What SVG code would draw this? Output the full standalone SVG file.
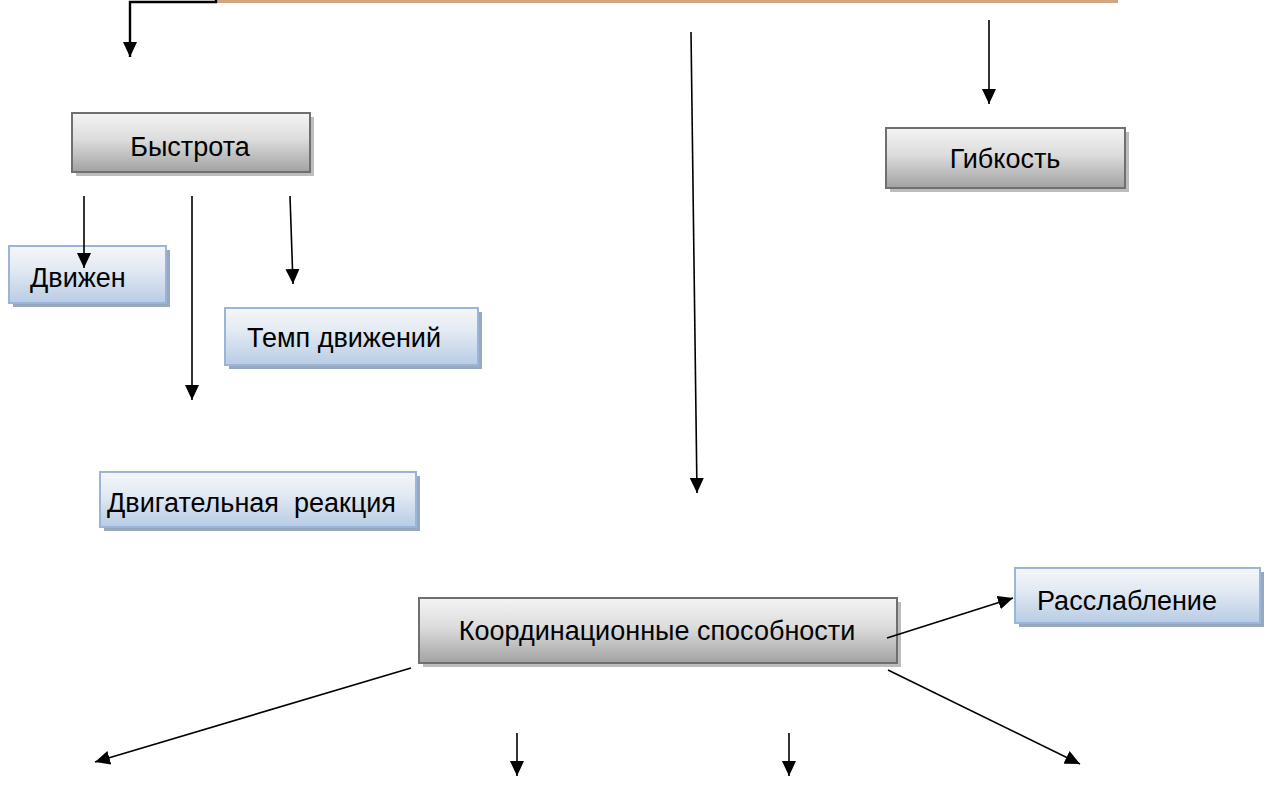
<svg xmlns="http://www.w3.org/2000/svg" width="1272" height="805" viewBox="0 0 1272 805">
<style>
.gbox{fill:url(#gGrey);stroke:#6F6F6F;stroke-width:2}
.gsh{fill:#BDBDBD}
.bbox{fill:url(#gBlue);stroke:#9AB5D8;stroke-width:2}
.bsh{fill:#98A8BE}
.t{font-family:"Liberation Sans",Arial,sans-serif;font-size:27px;fill:#000}
.c{text-anchor:middle}
.ln{stroke:#000;stroke-width:1.6;fill:none;marker-end:url(#ah)}
</style>
<defs>
<linearGradient id="gGrey" x1="0" y1="0" x2="0" y2="1">
<stop offset="0" stop-color="#F4F4F4"/>
<stop offset="0.45" stop-color="#DCDCDC"/>
<stop offset="1" stop-color="#A2A2A2"/>
</linearGradient>
<linearGradient id="gBlue" x1="0" y1="0" x2="0" y2="1">
<stop offset="0" stop-color="#F5F6F9"/>
<stop offset="0.4" stop-color="#E3EAF3"/>
<stop offset="1" stop-color="#B8CCE4"/>
</linearGradient>
<marker id="ah" markerUnits="userSpaceOnUse" markerWidth="15" markerHeight="14" viewBox="0 0 15 14" refX="15" refY="7" orient="auto">
<path d="M0,0 L15,7 L0,14 z" fill="#000"/>
</marker>
</defs>
<rect width="1272" height="805" fill="#fff"/>
<rect x="217" y="-10" width="901" height="13" fill="#D1A482"/>
<g id="bystrota">
<rect class="gsh" x="76" y="117" width="238" height="59"/>
<rect class="gbox" x="72" y="113" width="238" height="59"/>
<text class="t c" x="190" y="156">Быстрота</text>
</g>
<g id="gibkost">
<rect class="gsh" x="890" y="132" width="239" height="60"/>
<rect class="gbox" x="886" y="128" width="239" height="60"/>
<text class="t c" x="1005" y="168">Гибкость</text>
</g>
<g id="dvizhen">
<rect class="bsh" x="13" y="250" width="157" height="57"/>
<rect class="bbox" x="9" y="246" width="157" height="57"/>
<text class="t" x="30" y="287">Движен</text>
</g>
<g id="temp">
<rect class="bsh" x="229" y="312" width="253" height="57"/>
<rect class="bbox" x="225" y="308" width="253" height="57"/>
<text class="t" x="247" y="347">Темп движений</text>
</g>
<g id="reaktsiya">
<rect class="bsh" x="104" y="476" width="316" height="55"/>
<rect class="bbox" x="100" y="472" width="316" height="55"/>
<text class="t" x="107" y="512" xml:space="preserve">Двигательная  реакция</text>
</g>
<g id="koord">
<rect class="gsh" x="423" y="602" width="478" height="65"/>
<rect class="gbox" x="419" y="598" width="478" height="65"/>
<text class="t c" x="657" y="640">Координационные способности</text>
</g>
<g id="rasslablenie">
<rect class="bsh" x="1019" y="572" width="245" height="55"/>
<rect class="bbox" x="1015" y="568" width="245" height="55"/>
<text class="t" x="1037" y="610">Расслабление</text>
</g>
<g id="connectors">
<path d="M216,0 V2 H130 V57" stroke="#000" stroke-width="2.4" fill="none" marker-end="url(#ah)"/>
<line class="ln" x1="989" y1="20" x2="989" y2="104"/>
<line class="ln" x1="691" y1="32" x2="697" y2="493"/>
<line class="ln" x1="84" y1="196" x2="84" y2="268"/>
<line class="ln" x1="192" y1="196" x2="192" y2="400"/>
<line class="ln" x1="290" y1="196" x2="293" y2="284"/>
<line class="ln" x1="887" y1="638" x2="1013" y2="598"/>
<line class="ln" x1="411" y1="668" x2="95" y2="762"/>
<line class="ln" x1="888" y1="670" x2="1080" y2="764"/>
<line class="ln" x1="517" y1="733" x2="517" y2="776"/>
<line class="ln" x1="789" y1="733" x2="789" y2="776"/>
</g>
</svg>
